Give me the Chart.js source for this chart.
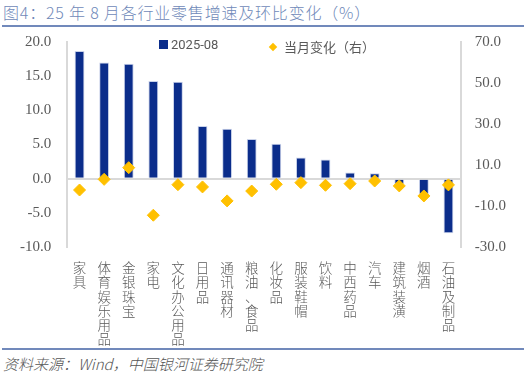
<!DOCTYPE html>
<html>
<head>
<meta charset="utf-8">
<script src="https://cdn.jsdelivr.net/npm/chart.js@4"></script>
<style>
  body { margin: 0; width: 524px; height: 376px; background: #fff; position: relative; overflow: hidden; font-family: "Noto Sans CJK SC", sans-serif; }
  #title { position: absolute; left: 3px; top: 0px; font-size: 16px; letter-spacing: 0.8px; font-weight: 300; color: #6f89b9; }
  .rule { position: absolute; left: 2px; width: 522px; height: 2px; background: #7189bb; }
  #src { position: absolute; left: 3px; top: 353px; font-size: 15px; font-weight: 300; color: #555; font-style: italic; }
  #wrap { position: absolute; left: 0; top: 17px; width: 524px; height: 331px; }
  .leg { position: absolute; top: 37px; font-size: 13px; color: #595959; display: flex; align-items: center; }
  .sq { width: 9px; height: 9px; background: #0b2d8b; margin-right: 3px; }
  .dm { width: 6px; height: 6px; background: #ffc000; transform: rotate(45deg); margin-right: 8px; margin-left: 2px; }
</style>
</head>
<body>
<div id="title">图4：25 年 8 月各行业零售增速及环比变化（%）</div>
<div class="rule" style="top:25px"></div>
<div id="wrap"><canvas id="c"></canvas></div>
<div class="leg" style="left:159px; font-family: Roboto, sans-serif;"><span class="sq"></span>2025-08</div>
<div class="leg" style="left:268px;"><span class="dm"></span>当月变化（右）</div>
<div class="rule" style="top:348px"></div>
<div id="src">资料来源：Wind，中国银河证券研究院</div>
<script>
// 各行业零售增速（左轴）与当月变化（右轴）
const categories = ['家具', '体育娱乐用品', '金银珠宝', '家电', '文化办公用品', '日用品', '通讯器材', '粮油、食品', '化妆品', '服装鞋帽', '饮料', '中西药品', '汽车', '建筑装潢', '烟酒', '石油及制品'];
const growth = [18.7, 17.0, 16.8, 14.3, 14.2, 7.7, 7.3, 5.8, 5.1, 3.1, 2.8, 0.9, 0.8, -0.8, -2.3, -8.0];
const monthChange = [-2.2, 3.0, 8.7, -14.5, 0.4, -0.7, -7.5, -2.7, 0.6, 1.4, 0.1, 0.9, 2.2, -0.2, -5.1, 0.3];
const leftTicks = [-10, 20, 5];
const rightTicks = [-30, 70, 20];

const ctx = document.getElementById('c');
new Chart(ctx, {
    type: 'bar',
    data: {
        // 竖排标签：每个字一行
        labels: categories.map(s => s.split('')),
        datasets: [
            { label: '2025-08', data: growth, backgroundColor: '#0b2d8b', borderColor: '#c9d2ea', borderWidth: 1, barPercentage: 0.4, categoryPercentage: 1, yAxisID: 'y', order: 2 },
            { label: '当月变化（右）', data: monthChange, type: 'line', showLine: false, pointStyle: 'rectRot', pointRadius: 6, pointHoverRadius: 6, backgroundColor: '#ffc000', borderColor: '#ffc000', yAxisID: 'y1', order: 1 }
        ]
    },
    options: {
        responsive: true,
        maintainAspectRatio: false,
        animation: false,
        layout: { padding: { left: 4, right: 4, top: 2, bottom: 0 } },
        plugins: { tooltip: { enabled: false }, legend: { display: false } },
        scales: {
            x: {
                afterFit: s => { s.height = 101; },
                grid: { display: false },
                border: { display: false },
                ticks: { maxRotation: 0, minRotation: 0, autoSkip: false, padding: 6, color: '#595959', font: { family: '"Noto Sans CJK SC"', size: 13.5, weight: 300, lineHeight: 1.05 } }
            },
            y: {
                position: 'left',
                min: leftTicks[0], max: leftTicks[1],
                ticks: { stepSize: leftTicks[2], color: '#595959', font: { family: '"Liberation Serif"', size: 15 }, callback: v => v.toFixed(1), padding: 16 },
                grid: { drawTicks: false, color: c => c.tick.value === 0 ? '#d9d9d9' : 'rgba(0,0,0,0)', lineWidth: 2 },
                border: { display: true, color: '#d9d9d9', width: 2 }
            },
            y1: {
                position: 'right',
                min: rightTicks[0], max: rightTicks[1],
                ticks: { stepSize: rightTicks[2], color: '#595959', font: { family: '"Liberation Serif"', size: 15 }, callback: v => v.toFixed(1), padding: 14 },
                grid: { display: false, drawTicks: false },
                border: { display: true, color: '#d9d9d9', width: 2 }
            }
        }
    }
});
</script>
</body>
</html>
